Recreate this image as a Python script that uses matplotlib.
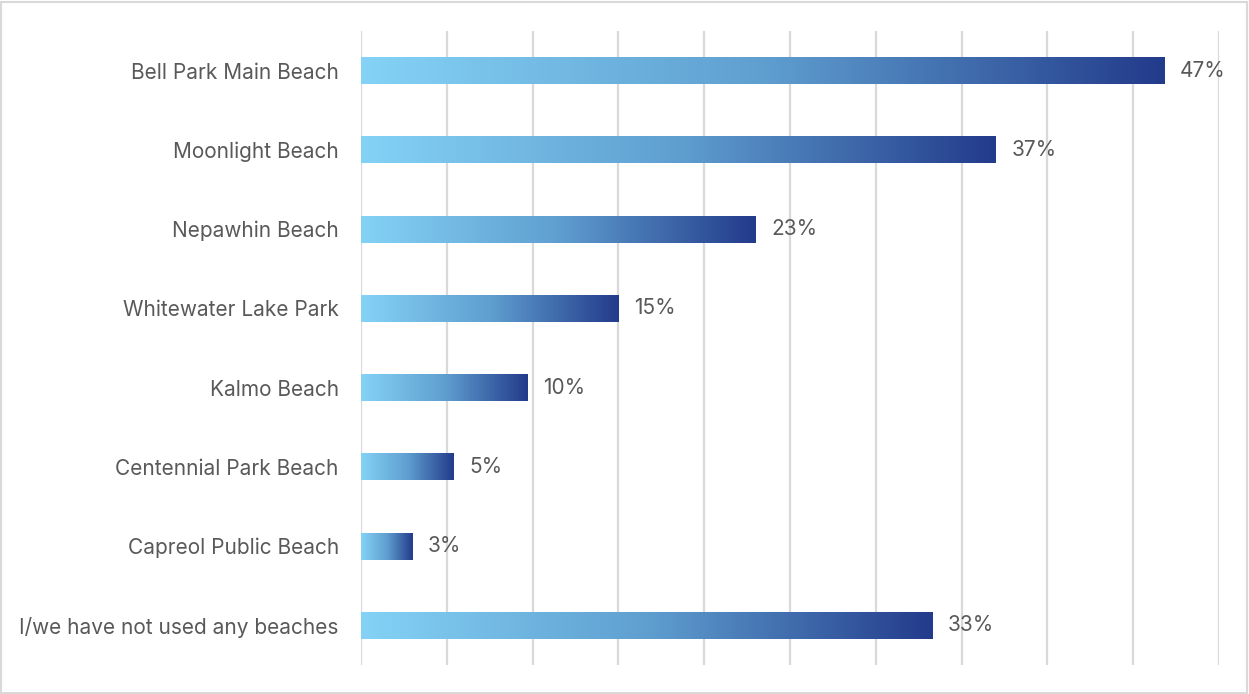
import numpy as np
import matplotlib.pyplot as plt
from matplotlib.colors import LinearSegmentedColormap
from matplotlib.patches import Rectangle

# data, top to bottom
beaches = ["Bell Park Main Beach", "Moonlight Beach", "Nepawhin Beach",
           "Whitewater Lake Park", "Kalmo Beach", "Centennial Park Beach",
           "Capreol Public Beach", "I/we have not used any beaches"]
percent = [46.8, 37.0, 23.0, 15.0, 9.7, 5.4, 3.0, 33.3]

plt.rcParams['font.family'] = ['Inter', 'DejaVu Sans']
text_color = "#595959"
grad = LinearSegmentedColormap.from_list("beach", ["#84d2f6", "#5f9fd0", "#233b8b"])

fig = plt.figure(figsize=(12.49, 6.94), dpi=100)
ax = fig.add_axes([361 / 1249, 1 - 665 / 694, (1219 - 361) / 1249, (665 - 31) / 694])

n = len(beaches)
ypos = np.arange(n)
bar_h = 0.34
ramp = np.linspace(0, 1, 256).reshape(1, -1)

for y, v in zip(ypos, percent):
    ax.imshow(ramp, cmap=grad, aspect='auto', interpolation='bicubic',
              extent=[0, v, y + bar_h / 2, y - bar_h / 2], zorder=2)
    ax.text(v + 0.9, y, f"{v:.0f}%", va='center', ha='left', fontsize=15,
            color=text_color)

ax.set_xlim(0, 50)
ax.set_ylim(n - 0.5, -0.5)
ax.set_xticks(np.arange(0, 51, 5))
ax.set_xticklabels([])
ax.tick_params(axis='x', length=0)
ax.set_yticks(ypos)
ax.set_yticklabels(beaches, fontsize=15, color=text_color)
ax.tick_params(axis='y', length=0, pad=16)
ax.grid(axis='x', color="#d9d9d9", linewidth=1.6, zorder=0)
ax.set_axisbelow(True)
for s in ax.spines.values():
    s.set_visible(False)

# light frame around the chart
fig.patches.append(Rectangle((0.001, 0.002), 0.997, 0.995, transform=fig.transFigure,
                             fill=False, edgecolor="#d9d9d9", linewidth=1.5))

fig.savefig("out.png", dpi=100)
